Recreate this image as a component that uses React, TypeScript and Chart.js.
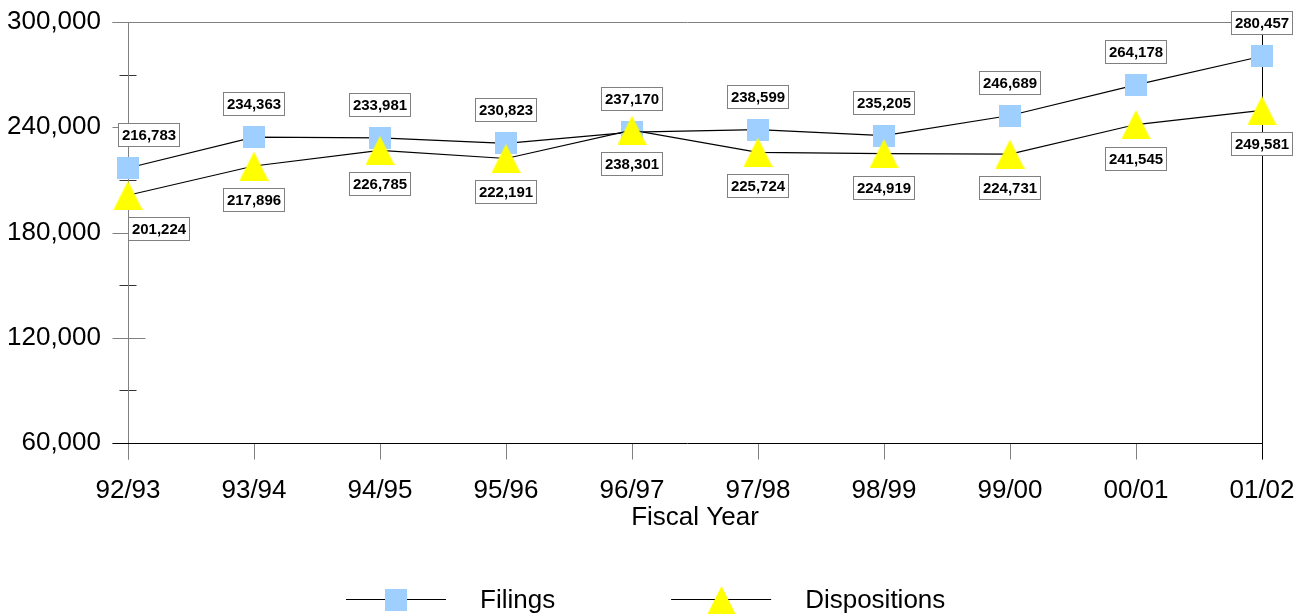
import React, { useEffect, useRef } from 'react';
import { Chart, registerables } from 'chart.js';

Chart.register(...registerables);

// ---- data ----
const categories = ['92/93', '93/94', '94/95', '95/96', '96/97', '97/98', '98/99', '99/00', '00/01', '01/02'];
const filings = [216783, 234363, 233981, 230823, 237170, 238599, 235205, 246689, 264178, 280457];
const dispositions = [201224, 217896, 226785, 222191, 238301, 225724, 224919, 224731, 241545, 249581];
const yTicks = [60000, 120000, 180000, 240000, 300000];
const seriesNames = ['Filings', 'Dispositions'];
const xTitle = 'Fiscal Year';

const FONT = '"Liberation Sans", Arial, sans-serif';
const GRAY = '#808080';
const DARK = '#333333';
const SQUARE_COLOR = '#9FCFFF';
const TRI_COLOR = '#FFFF00';

function makeSquare(): HTMLCanvasElement {
  const c = document.createElement('canvas');
  c.width = 22; c.height = 22;
  const g = c.getContext('2d')!;
  g.fillStyle = SQUARE_COLOR;
  g.fillRect(0, 0, 22, 22);
  return c;
}

function makeTriangle(): HTMLCanvasElement {
  const c = document.createElement('canvas');
  c.width = 29; c.height = 29;
  const g = c.getContext('2d')!;
  g.fillStyle = TRI_COLOR;
  g.beginPath();
  g.moveTo(14.5, 0);
  g.lineTo(29, 29);
  g.lineTo(0, 29);
  g.closePath();
  g.fill();
  return c;
}

const fmt = (v: number) => v.toLocaleString('en-US');

const axesPlugin = {
  id: 'customAxes',
  beforeDatasetsDraw(chart: any) {
    const { ctx, chartArea: a, scales } = chart;
    const ys = scales.y, xs = scales.x;
    const L = Math.round(a.left) + 0.5, R = Math.round(a.right) + 0.5;
    const T = Math.round(a.top) + 0.5, B = Math.round(a.bottom) + 0.5;
    ctx.save();
    ctx.lineWidth = 1;
    const seg = (x1: number, y1: number, x2: number, y2: number, c: string) => {
      ctx.strokeStyle = c;
      ctx.beginPath();
      ctx.moveTo(x1, y1);
      ctx.lineTo(x2, y2);
      ctx.stroke();
    };
    seg(L - 16, T, R, T, GRAY);
    yTicks.forEach((v) => {
      const y = Math.round(ys.getPixelForValue(v)) + 0.5;
      seg(L - 16, y, L + 17, y, GRAY);
    });
    for (let i = 0; i < yTicks.length - 1; i++) {
      const y = Math.round(ys.getPixelForValue((yTicks[i] + yTicks[i + 1]) / 2)) + 0.5;
      seg(L - 9, y, L + 8, y, DARK);
    }
    categories.forEach((_, i) => {
      const x = Math.round(xs.getPixelForValue(i)) + 0.5;
      seg(x, B, x, B + 16, GRAY);
    });
    seg(L, T, L, B + 16, GRAY);
    seg(R, T, R, B + 16, '#000');
    seg(L - 16, B, R, B, '#000');
    ctx.restore();
  },
};

const labelsPlugin = {
  id: 'valueLabels',
  afterDatasetsDraw(chart: any) {
    const { ctx, chartArea: a } = chart;
    ctx.save();
    ctx.font = `bold 15px ${FONT}`;
    ctx.textAlign = 'center';
    ctx.textBaseline = 'middle';
    const cfg = [
      { dy: -33, minLeft: a.left - 10 },
      { dy: 34, minLeft: a.left },
    ];
    chart.data.datasets.forEach((ds: any, di: number) => {
      const meta = chart.getDatasetMeta(di);
      meta.data.forEach((pt: any, i: number) => {
        const text = fmt(ds.data[i]);
        const w = Math.round(ctx.measureText(text).width) + 8;
        const h = 24;
        let left = Math.round(pt.x - w / 2);
        if (left < cfg[di].minLeft) left = Math.round(cfg[di].minLeft);
        const cy = Math.round(pt.y + cfg[di].dy);
        const top = cy - h / 2;
        ctx.fillStyle = '#fff';
        ctx.fillRect(left, top, w, h);
        ctx.strokeStyle = GRAY;
        ctx.lineWidth = 1;
        ctx.strokeRect(left + 0.5, top + 0.5, w - 1, h - 1);
        ctx.fillStyle = '#000';
        ctx.fillText(text, left + w / 2, cy + 1);
      });
    });
    ctx.restore();
  },
};

const legendPlugin = {
  id: 'customLegend',
  afterDraw(chart: any) {
    const { ctx } = chart;
    ctx.save();
    ctx.font = `26px ${FONT}`;
    ctx.textBaseline = 'middle';
    ctx.textAlign = 'left';
    const ds = chart.data.datasets;
    const lineLen = 100;
    const textOff = 134;
    const gap = 116;
    const widths = ds.map((d: any) => textOff + ctx.measureText(d.label).width);
    const total = widths.reduce((s: number, w: number) => s + w, 0) + gap * (ds.length - 1);
    let x = Math.round(chart.width / 2 - 6 - total / 2);
    const y = 600;
    ds.forEach((d: any, i: number) => {
      ctx.strokeStyle = '#000';
      ctx.lineWidth = 1;
      ctx.beginPath();
      ctx.moveTo(x, y - 0.5);
      ctx.lineTo(x + lineLen, y - 0.5);
      ctx.stroke();
      const img = d.pointStyle as HTMLCanvasElement;
      ctx.drawImage(img, Math.round(x + lineLen / 2 - img.width / 2), Math.round(y - img.height / 2));
      ctx.fillStyle = '#000';
      ctx.fillText(d.label, x + textOff, y + 1);
      x += widths[i] + gap;
    });
    ctx.restore();
  },
};

export default function App() {
  const ref = useRef<HTMLCanvasElement | null>(null);
  useEffect(() => {
    if (!ref.current) return;
    Chart.defaults.font.family = FONT;
    const square = makeSquare();
    const tri = makeTriangle();
    const chart = new Chart(ref.current, {
      type: 'line',
      data: {
        labels: categories,
        datasets: [
          {
            label: seriesNames[0],
            data: filings,
            borderColor: '#000',
            borderWidth: 1.2,
            pointStyle: square,
            pointRadius: 11,
            pointHoverRadius: 11,
            tension: 0,
            clip: false,
            order: 1,
          } as any,
          {
            label: seriesNames[1],
            data: dispositions,
            borderColor: '#000',
            borderWidth: 1.2,
            pointStyle: tri,
            pointRadius: 14,
            pointHoverRadius: 14,
            tension: 0,
            clip: false,
            order: 0,
          } as any,
        ],
      },
      options: {
        animation: false,
        responsive: true,
        maintainAspectRatio: false,
        events: [],
        layout: { padding: { top: 22, right: 42, bottom: 71, left: 0 } },
        plugins: { legend: { display: false }, tooltip: { enabled: false } },
        scales: {
          x: {
            type: 'category',
            offset: false,
            grid: { display: false, drawTicks: false },
            border: { display: false },
            ticks: {
              color: '#000',
              font: { size: 26, family: FONT },
              padding: 32,
              maxRotation: 0,
              autoSkip: false,
            },
            title: {
              display: true,
              text: xTitle,
              color: '#000',
              font: { size: 26, family: FONT },
              padding: { top: 0, bottom: 10 },
            },
            afterFit: (s: any) => {
              s.height = 100;
              s.paddingLeft = 0;
              s.paddingRight = 0;
            },
          },
          y: {
            type: 'linear',
            min: yTicks[0],
            max: yTicks[yTicks.length - 1],
            grid: { display: false, drawTicks: false },
            border: { display: false },
            ticks: {
              color: '#000',
              font: { size: 26, family: FONT },
              padding: 27,
              callback: (v: any) => fmt(Number(v)),
            },
            afterBuildTicks: (s: any) => { s.ticks = yTicks.map((v) => ({ value: v })); },
            afterFit: (s: any) => {
              s.width = 128;
              s.paddingTop = 0;
              s.paddingBottom = 0;
            },
          },
        },
      },
      plugins: [axesPlugin, labelsPlugin, legendPlugin],
    });
    return () => chart.destroy();
  }, []);
  return (
    <div style={{ position: 'absolute', left: 0, top: 0, width: 1304, height: 614 }}>
      <canvas ref={ref} />
    </div>
  );
}
